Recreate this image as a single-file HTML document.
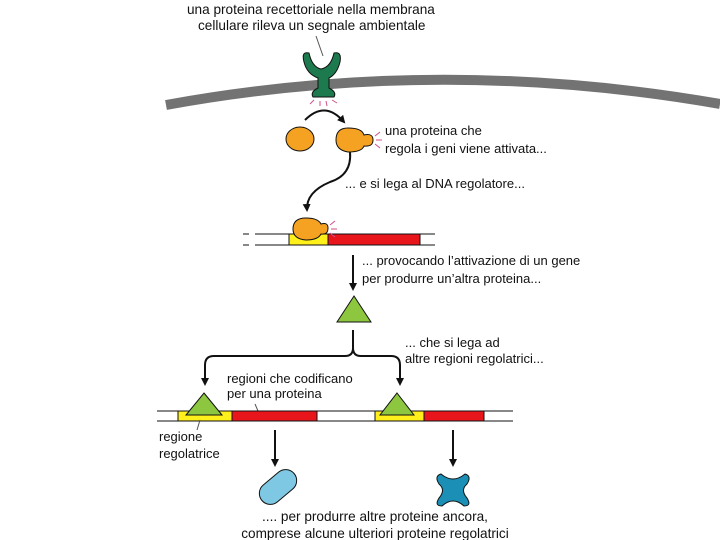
<!DOCTYPE html>
<html><head><meta charset="utf-8"><style>
body{margin:0;background:#fff}
svg{display:block}
text{font-family:"Liberation Sans",sans-serif;font-size:13px;fill:#111}
</style></head><body>
<svg width="720" height="540" viewBox="0 0 720 540">
<defs><marker id="a" markerWidth="8" markerHeight="8" refX="6" refY="4" orient="auto" markerUnits="userSpaceOnUse"><path d="M0,0 L8,4 L0,8 Z" fill="#111"/></marker></defs>
<text x="187" y="14" style="font-size:13.6px">una proteina recettoriale nella membrana</text>
<text x="198" y="30" style="font-size:13.6px">cellulare rileva un segnale ambientale</text>
<line x1="316" y1="36" x2="323" y2="56" stroke="#555" stroke-width="1"/>
<path d="M166,105 Q440,55 720,104" stroke="#737373" stroke-width="10" fill="none"/>
<path d="M304,62 Q301,51 309,53 Q312,67 321,69 Q331,67 334,53 Q342,51 340,62 Q337,74 329,78 L329,88 Q337,92 334,97 L313,97 Q310,92 318,88 L318,78 Q307,74 304,62Z" fill="#1d7a4e" stroke="#111" stroke-width="1"/>
<g stroke="#d0508a" stroke-width="1"><line x1="314" y1="100" x2="310" y2="104"/><line x1="320" y1="101" x2="320" y2="106"/><line x1="326" y1="101" x2="327" y2="106"/><line x1="332" y1="100" x2="337" y2="103"/></g>
<path d="M305,120 Q325,100 344,122" stroke="#111" stroke-width="2" fill="none" marker-end="url(#a)"/>
<ellipse cx="300" cy="139" rx="14" ry="12" fill="#f5a223" stroke="#111"/>
<path d="M348,128 Q362,128 364,135 Q373,133 373,140 Q373,147 364,146 Q362,152 348,152 Q336,150 336,140 Q336,128 348,128Z" fill="#f5a223" stroke="#111"/>
<g stroke="#d0508a" stroke-width="1"><line x1="375" y1="136" x2="380" y2="132"/><line x1="376" y1="140" x2="382" y2="140"/><line x1="375" y1="144" x2="380" y2="148"/></g>
<text x="385" y="135">una proteina che</text>
<text x="385" y="153">regola i geni viene attivata...</text>
<path d="M350,152 Q352,175 330,182 Q306,192 307,210" stroke="#111" stroke-width="2" fill="none" marker-end="url(#a)"/>
<text x="345" y="188">... e si lega al DNA regolatore...</text>
<g stroke="#111" stroke-width="1"><line x1="243" y1="234" x2="249" y2="234"/><line x1="243" y1="245" x2="249" y2="245"/><line x1="255" y1="234" x2="435" y2="234"/><line x1="255" y1="245" x2="435" y2="245"/></g>
<rect x="289" y="234" width="39" height="11" fill="#ffef1a" stroke="#111"/>
<rect x="328" y="234" width="92" height="11" fill="#e8151b" stroke="#111"/>
<path d="M306,218 Q318,218 321,224 Q328,222 328,228 Q328,235 321,234 Q318,240 306,240 Q293,239 293,229 Q293,218 306,218Z" fill="#f5a223" stroke="#111"/>
<g stroke="#d0508a" stroke-width="1"><line x1="330" y1="225" x2="335" y2="221"/><line x1="331" y1="229" x2="337" y2="229"/><line x1="330" y1="233" x2="335" y2="237"/></g>
<line x1="353" y1="255" x2="353" y2="289" stroke="#111" stroke-width="2" marker-end="url(#a)"/>
<text x="362" y="265">... provocando l’attivazione di un gene</text>
<text x="362" y="283">per produrre un’altra proteina...</text>
<path d="M354,296 L371,322 L337,322Z" fill="#8dc63f" stroke="#111"/>
<path d="M353,330 L353,348 Q353,356 345,356 L214,356 Q205,356 205,365 L205,383 M353,348 Q353,356 361,356 L391,356 Q400,356 400,365 L400,383" stroke="#111" stroke-width="2" fill="none"/>
<path d="M201,378 L205,386 L209,378Z M396,378 L400,386 L404,378Z" fill="#111"/>
<text x="405" y="347">... che si lega ad</text>
<text x="405" y="363">altre regioni regolatrici...</text>
<text x="227" y="383">regioni che codificano</text>
<text x="227" y="398">per una proteina</text>
<line x1="255" y1="404" x2="258" y2="411" stroke="#555"/>
<g stroke="#111" stroke-width="1"><line x1="157" y1="411" x2="513" y2="411"/><line x1="157" y1="421" x2="513" y2="421"/></g>
<rect x="178" y="411" width="54" height="10" fill="#ffef1a" stroke="#111"/>
<rect x="232" y="411" width="85" height="10" fill="#e8151b" stroke="#111"/>
<rect x="375" y="411" width="49" height="10" fill="#ffef1a" stroke="#111"/>
<rect x="424" y="411" width="60" height="10" fill="#e8151b" stroke="#111"/>
<path d="M204,393 L222,415 L186,415Z" fill="#8dc63f" stroke="#111"/>
<path d="M397,393 L414,415 L380,415Z" fill="#8dc63f" stroke="#111"/>
<line x1="200" y1="420" x2="197" y2="430" stroke="#555"/>
<text x="159" y="441">regione</text>
<text x="159" y="458">regolatrice</text>
<line x1="275" y1="430" x2="275" y2="465" stroke="#111" stroke-width="2" marker-end="url(#a)"/>
<line x1="453" y1="430" x2="453" y2="465" stroke="#111" stroke-width="2" marker-end="url(#a)"/>
<rect x="257" y="476" width="42" height="22" rx="11" transform="rotate(-40 278 487)" fill="#7ec8e3" stroke="#111"/>
<path d="M441,474 Q453,484 465,474 Q472,476 467,484 Q460,490 467,498 Q472,506 464,506 Q453,496 442,506 Q434,506 439,498 Q446,490 439,484 Q434,476 441,474Z" fill="#1b8fb5" stroke="#111"/>
<text x="375" y="521" text-anchor="middle" style="font-size:13.6px">.... per produrre altre proteine ancora,</text>
<text x="375" y="538" text-anchor="middle" style="font-size:13.6px">comprese alcune ulteriori proteine regolatrici</text>
</svg>
</body></html>
